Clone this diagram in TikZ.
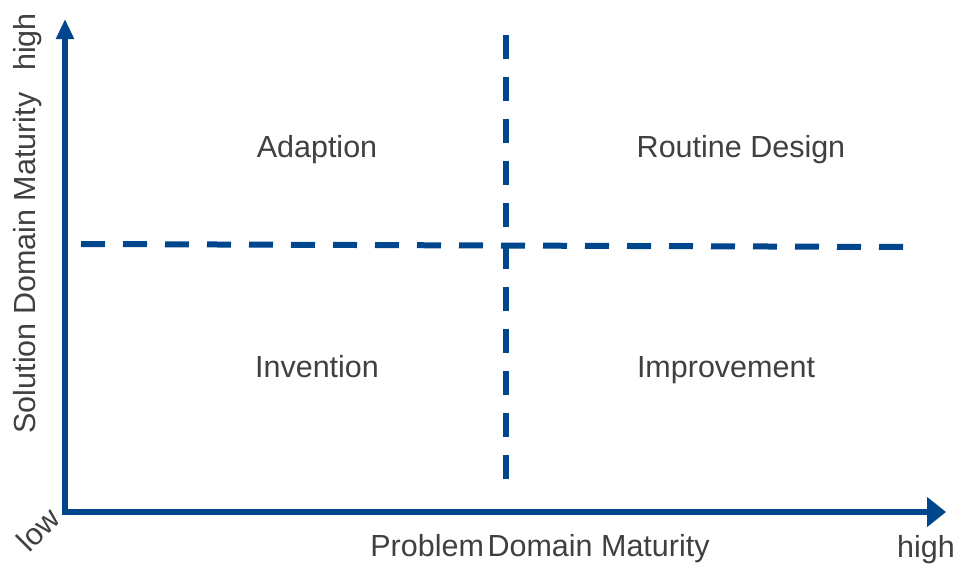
\documentclass[tikz,border=0pt]{standalone}
\usepackage{fontspec}
\setmainfont{Liberation Sans}
\usetikzlibrary{arrows.meta}
\definecolor{axisblue}{HTML}{00468C}
\definecolor{txtgray}{HTML}{404040}
\begin{document}
\begin{tikzpicture}[x=1pt,y=-1pt,
  axisline/.style={draw=axisblue,line width=6pt},
  divider/.style={draw=axisblue,line width=6pt,dash pattern=on 24pt off 18pt},
  lbl/.style={text=txtgray,font=\fontsize{30.5}{35}\selectfont,inner sep=0pt,anchor=base}]
\useasboundingbox (0,0) rectangle (959,563);
\coordinate (o1) at (65,515);
\coordinate (ytip) at (65,19);
\coordinate (o2) at (62,512);
\coordinate (xtip) at (946,512);
\coordinate (vtop) at (506,35);
\coordinate (vbot) at (506,481);
\coordinate (hl) at (81,244);
\coordinate (hr) at (907,247);
\draw[axisline,-{Triangle[length=20pt,width=17pt]}] (o1) -- (ytip);
\draw[axisline,-{Triangle[length=19pt,width=29pt]}] (o2) -- (xtip);
\draw[divider] (vtop) -- (vbot);
\draw[divider] (hl) -- (hr);
\node[lbl] (adapt) at (317,157) {Adaption};
\node[lbl] (routine) at (741,157) {Routine Design};
\node[lbl] (invent) at (317,377) {Invention};
\node[lbl] (improve) at (726,377) {Improvement};
\node[lbl] (xlab) at (540,556) {Problem\hspace{0.12em}Domain Maturity};
\node[lbl] (xhigh) at (926,557) {high};
\node[lbl,rotate=90] (ylab) at (35,263) {Solution Domain Maturity};
\node[lbl,rotate=90] (yhigh) at (35,42) {high};
\node[lbl,rotate=45] (low) at (46,537) {low};
\end{tikzpicture}
\end{document}
